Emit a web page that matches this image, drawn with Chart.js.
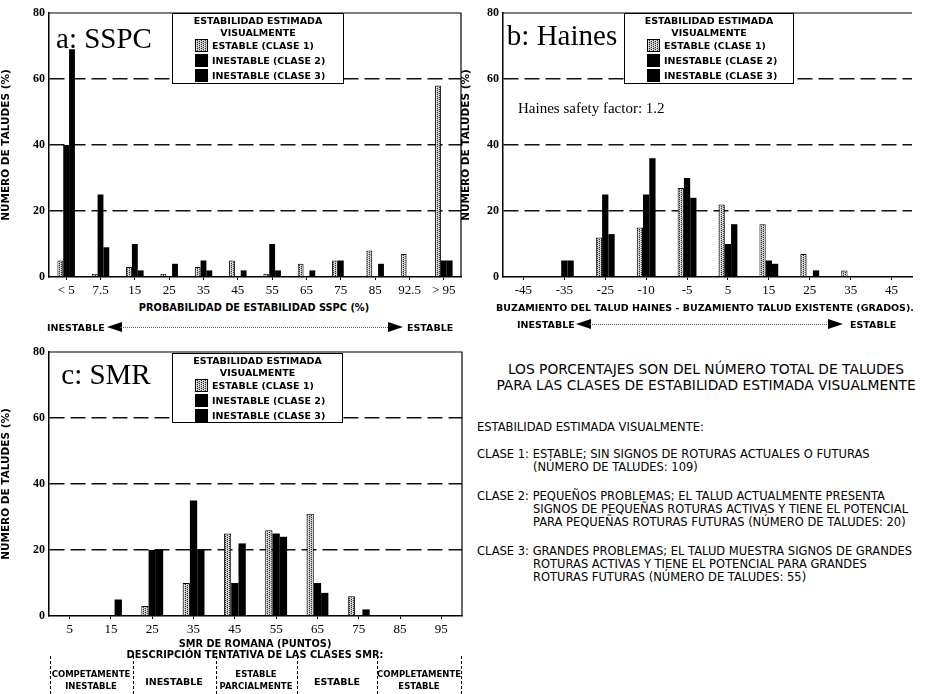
<!DOCTYPE html>
<html>
<head>
<meta charset="utf-8">
<script src="https://cdn.jsdelivr.net/npm/chart.js@4.4.1/dist/chart.umd.min.js"></script>
<style>
  body { margin: 0; background: #fff; }
  #page { position: relative; width: 926px; height: 694px; overflow: hidden; background: #fff; }
  canvas { position: absolute; }
  .t { position: absolute; white-space: nowrap; color: #000; font-family: "DejaVu Sans", sans-serif; }
  .b { font-weight: bold; }
  .c { transform: translate(-50%, -50%); }
  .m { transform: translateY(-50%); }
  .serif { font-family: "Liberation Serif", "Times New Roman", serif; }
  .legend { position: absolute; border: 1px solid #000; background: #fff; box-sizing: border-box; }
  .legend .ttl { position: absolute; left: 0; right: 0; text-align: center; font: bold 9.5px "DejaVu Sans", sans-serif; }
  .legend .row { position: absolute; left: 22px; height: 13px; font: bold 9.5px "DejaVu Sans", sans-serif; line-height: 13px; }
  .legend .sw { display: inline-block; width: 13px; height: 13px; vertical-align: top; margin-right: 4px; background: #000; box-sizing: border-box; }
  .arrowline { position: absolute; height: 0; border-top: 1px dotted #555; }
  .headL, .headR { position: absolute; width: 0; height: 0; border-top: 5px solid transparent; border-bottom: 5px solid transparent; }
  .headL { border-right: 15px solid #000; }
  .headR { border-left: 15px solid #000; }
  .vl { position: absolute; width: 0; border-left: 1px dashed #000; }
  .note { font-size: 11.5px; }
</style>
</head>
<body>
<div id="page">
  <canvas id="chartA" style="left:0;top:0;" width="470" height="300"></canvas>
  <canvas id="chartB" style="left:460px;top:0;" width="466" height="300"></canvas>
  <canvas id="chartC" style="left:0;top:340px;" width="470" height="300"></canvas>

  <!-- panel labels -->
  <div class="t serif c" style="left:104px;top:38px;font-size:29px;">a: SSPC</div>
  <div class="t serif c" style="left:562px;top:35px;font-size:29px;">b: Haines</div>
  <div class="t serif c" style="left:106px;top:374px;font-size:29px;">c: SMR</div>
  <div class="t serif m" style="left:518px;top:108px;font-size:15px;">Haines safety factor: 1.2</div>

  <!-- legends -->
  <div class="legend" id="legA" style="left:172px;top:13px;width:172px;height:71px;"></div>
  <div class="legend" id="legB" style="left:624px;top:13px;width:170px;height:71px;"></div>
  <div class="legend" id="legC" style="left:172px;top:353px;width:171px;height:70px;"></div>

  <!-- chart a axis titles -->
  <div class="t b c" style="left:254px;top:307px;font-size:9.8px;">PROBABILIDAD DE ESTABILIDAD SSPC (%)</div>
  <div class="t b m" style="left:47px;top:327px;font-size:9.5px;">INESTABLE</div>
  <div class="headL" style="left:107px;top:322px;"></div>
  <div class="arrowline" style="left:120px;top:327px;width:270px;"></div>
  <div class="headR" style="left:388px;top:322px;"></div>
  <div class="t b m" style="left:407px;top:327px;font-size:9.5px;">ESTABLE</div>

  <!-- chart b axis titles -->
  <div class="t b c" style="left:705px;top:307px;font-size:9.5px;">BUZAMIENTO DEL TALUD HAINES - BUZAMIENTO TALUD EXISTENTE (GRADOS).</div>
  <div class="t b m" style="left:517px;top:324px;font-size:9.5px;">INESTABLE</div>
  <div class="headL" style="left:576px;top:319px;"></div>
  <div class="arrowline" style="left:589px;top:324px;width:240px;"></div>
  <div class="headR" style="left:828px;top:319px;"></div>
  <div class="t b m" style="left:850px;top:324px;font-size:9.5px;">ESTABLE</div>

  <!-- chart c titles and SMR class table -->
  <div class="t b c" style="left:255px;top:643px;font-size:9.8px;">SMR DE ROMANA (PUNTOS)</div>
  <div class="t b c" style="left:255px;top:654px;font-size:9.8px;">DESCRIPCIÓN TENTATIVA DE LAS CLASES SMR:</div>
  <div class="vl" style="left:50px;top:656px;height:38px;"></div>
  <div class="vl" style="left:133px;top:656px;height:38px;"></div>
  <div class="vl" style="left:216px;top:656px;height:38px;"></div>
  <div class="vl" style="left:297px;top:656px;height:38px;"></div>
  <div class="vl" style="left:377px;top:656px;height:38px;"></div>
  <div class="vl" style="left:461px;top:656px;height:38px;"></div>
  <div class="t b c" style="left:91px;top:680px;font-size:8.5px;text-align:center;line-height:12px;">COMPETAMENTE<br>INESTABLE</div>
  <div class="t b c" style="left:174px;top:681px;font-size:9.5px;">INESTABLE</div>
  <div class="t b c" style="left:256px;top:680px;font-size:8.5px;text-align:center;line-height:12px;">ESTABLE<br>PARCIALMENTE</div>
  <div class="t b c" style="left:337px;top:681px;font-size:9.5px;">ESTABLE</div>
  <div class="t b c" style="left:419px;top:680px;font-size:8.5px;text-align:center;line-height:12px;">COMPLETAMENTE<br>ESTABLE</div>

  <!-- right text block -->
  <div class="t c" style="left:706px;top:369px;font-size:13.8px;">LOS PORCENTAJES SON DEL NÚMERO TOTAL DE TALUDES</div>
  <div class="t c" style="left:706px;top:385px;font-size:13.8px;">PARA LAS CLASES DE ESTABILIDAD ESTIMADA VISUALMENTE</div>
  <div class="t m note" style="left:477px;top:427px;">ESTABILIDAD ESTIMADA VISUALMENTE:</div>
  <div class="t m note" style="left:477px;top:454px;">CLASE 1: ESTABLE; SIN SIGNOS DE ROTURAS ACTUALES O FUTURAS</div>
  <div class="t m note" style="left:533px;top:467px;">(NÚMERO DE TALUDES: 109)</div>
  <div class="t m note" style="left:477px;top:496px;">CLASE 2: PEQUEÑOS PROBLEMAS; EL TALUD ACTUALMENTE PRESENTA</div>
  <div class="t m note" style="left:533px;top:509px;">SIGNOS DE PEQUEÑAS ROTURAS ACTIVAS Y TIENE EL POTENCIAL</div>
  <div class="t m note" style="left:533px;top:522px;">PARA PEQUEÑAS ROTURAS FUTURAS (NÚMERO DE TALUDES: 20)</div>
  <div class="t m note" style="left:477px;top:551px;">CLASE 3: GRANDES PROBLEMAS; EL TALUD MUESTRA SIGNOS DE GRANDES</div>
  <div class="t m note" style="left:533px;top:564px;">ROTURAS ACTIVAS Y TIENE EL POTENCIAL PARA GRANDES</div>
  <div class="t m note" style="left:533px;top:577px;">ROTURAS FUTURAS (NÚMERO DE TALUDES: 55)</div>
</div>

<script>
// a: SSPC
const sspcLabels = ['< 5', '7.5', '15', '25', '35', '45', '55', '65', '75', '85', '92.5', '> 95'];
const sspcClase1 = [5, 1, 3, 1, 3, 5, 1, 4, 5, 8, 7, 58];
const sspcClase2 = [40, 25, 10, 0, 5, 0, 10, 0, 5, 0, 0, 5];
const sspcClase3 = [69, 9, 2, 4, 2, 2, 2, 2, 0, 4, 0, 5];

// b: Haines
const hainesLabels = ['-45', '-35', '-25', '-10', '-5', '5', '15', '25', '35', '45'];
const hainesClase1 = [0, 0, 12, 15, 27, 22, 16, 7, 2, 0];
const hainesClase2 = [0, 5, 25, 25, 30, 10, 5, 0, 0, 0];
const hainesClase3 = [0, 5, 13, 36, 24, 16, 4, 2, 0, 0];

// c: SMR
const smrLabels = ['5', '15', '25', '35', '45', '55', '65', '75', '85', '95'];
const smrClase1 = [0, 0, 3, 10, 25, 26, 31, 6, 0, 0];
const smrClase2 = [0, 0, 20, 35, 10, 25, 10, 0, 0, 0];
const smrClase3 = [0, 5, 20, 20, 22, 24, 7, 2, 0, 0];

const yTicks = [0, 20, 40, 60, 80];
const legendTitle = ['ESTABILIDAD ESTIMADA', 'VISUALMENTE'];
const legendItems = ['ESTABLE (CLASE 1)', 'INESTABLE (CLASE 2)', 'INESTABLE (CLASE 3)'];
const yTitle = 'NÚMERO DE TALUDES (%)';

// grey stipple used for the "estable" bars (dots in vertical columns)
function makeStipple() {
    const c = document.createElement('canvas');
    c.width = 4;
    c.height = 6;
    const g = c.getContext('2d');
    g.fillStyle = '#bcbcbc';
    g.fillRect(0, 0, 4, 6);
    g.fillStyle = '#2c2c2c';
    [[1, 0], [3, 1], [1, 2], [3, 3], [1, 4], [3, 5]].forEach(p => g.fillRect(p[0], p[1], 1, 1));
    g.fillStyle = '#f2f2f2';
    [[0, 1], [2, 0], [0, 3], [2, 4], [0, 5]].forEach(p => g.fillRect(p[0], p[1], 1, 1));
    return c;
}
const stippleCanvas = makeStipple();
const stipple = document.createElement('canvas').getContext('2d').createPattern(stippleCanvas, 'repeat');

function buildLegend(id) {
    const box = document.getElementById(id);
    legendTitle.forEach((txt, i) => {
        const d = document.createElement('div');
        d.className = 'ttl';
        d.style.top = (1 + i * 12) + 'px';
        d.textContent = txt;
        box.appendChild(d);
    });
    legendItems.forEach((txt, i) => {
        const r = document.createElement('div');
        r.className = 'row';
        r.style.top = (25 + i * 15) + 'px';
        const sw = document.createElement('span');
        sw.className = 'sw';
        if (i === 0) {
            sw.style.background = 'url(' + stippleCanvas.toDataURL() + ')';
            sw.style.border = '1px solid #000';
        }
        r.appendChild(sw);
        r.appendChild(document.createTextNode(txt));
        box.appendChild(r);
    });
}
buildLegend('legA');
buildLegend('legB');
buildLegend('legC');

// top (and optionally right) frame line
const framePlugin = {
    id: 'frame',
    afterDraw(chart, args, opts) {
        const a = chart.chartArea;
        const ctx = chart.ctx;
        ctx.save();
        ctx.strokeStyle = '#000';
        ctx.lineWidth = 1.2;
        ctx.beginPath();
        ctx.moveTo(a.left, a.top);
        ctx.lineTo(a.right, a.top);
        if (opts.right) {
            ctx.lineTo(a.right, a.bottom);
        }
        ctx.stroke();
        ctx.restore();
    }
};

function plotChart(id, labels, c1, c2, c3, layout) {
    const ctx = document.getElementById(id).getContext('2d');
    return new Chart(ctx, {
        type: 'bar',
        data: {
            labels: labels,
            datasets: [
                { label: legendItems[0], data: c1, backgroundColor: stipple, borderColor: '#000', borderWidth: 1 },
                { label: legendItems[1], data: c2, backgroundColor: '#000', borderWidth: 0 },
                { label: legendItems[2], data: c3, backgroundColor: '#000', borderWidth: 0 },
            ],
        },
        plugins: [framePlugin],
        options: {
            responsive: false,
            animation: false,
            events: [],
            layout: { padding: { top: layout.top, right: layout.right, left: 0, bottom: 0 } },
            datasets: { bar: { categoryPercentage: layout.cat, barPercentage: 1.0 } },
            scales: {
                x: {
                    afterFit: (scale) => { scale.height = layout.xh; },
                    grid: { display: true, drawOnChartArea: false, drawTicks: true, tickLength: 3, offset: false, color: '#000' },
                    border: { display: true, color: '#000', width: 1.5 },
                    ticks: {
                        color: '#000',
                        padding: 3,
                        maxRotation: 0,
                        autoSkip: false,
                        font: { family: 'Liberation Serif', size: 13 },
                    },
                },
                y: {
                    min: 0,
                    max: 80,
                    afterFit: (scale) => { scale.width = layout.yw; },
                    afterBuildTicks: (scale) => { scale.ticks = yTicks.map(v => ({ value: v })); },
                    grid: {
                        drawTicks: false,
                        lineWidth: 1.4,
                        color: (c) => (c.tick && c.tick.value > 0 && c.tick.value < 80) ? '#111' : 'rgba(0,0,0,0)',
                    },
                    border: { display: true, color: '#000', width: 1.5, dash: [15, 6] },
                    ticks: {
                        color: '#000',
                        padding: 4,
                        font: { family: 'Liberation Serif', size: 12, weight: 'bold' },
                    },
                    title: {
                        display: true,
                        text: yTitle,
                        color: '#000',
                        padding: { top: 0, bottom: 2 },
                        font: { family: 'DejaVu Sans', size: 10.5, weight: 'bold' },
                    },
                },
            },
            plugins: {
                legend: { display: false },
                tooltip: { enabled: false },
                frame: { right: layout.frameRight },
            },
        },
    });
}

plotChart('chartA', sspcLabels, sspcClase1, sspcClase2, sspcClase3,
    { top: 13, right: 9, yw: 49, xh: 23, cat: 0.51, frameRight: true });
plotChart('chartB', hainesLabels, hainesClase1, hainesClase2, hainesClase3,
    { top: 13, right: 14, yw: 43, xh: 23, cat: 0.46, frameRight: false });
plotChart('chartC', smrLabels, smrClase1, smrClase2, smrClase3,
    { top: 12, right: 8, yw: 49, xh: 24, cat: 0.53, frameRight: true });
</script>
</body>
</html>
